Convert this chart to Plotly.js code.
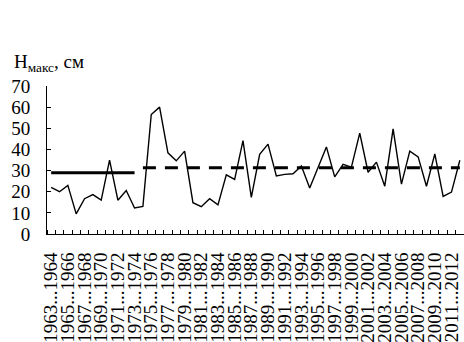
<!DOCTYPE html>
<html>
<head>
<meta charset="utf-8">
<script src="https://cdn.plot.ly/plotly-3.0.1.min.js"></script>
<style>
html,body{margin:0;padding:0;background:#fff;}
#chart{width:464px;height:342px;}
</style>
</head>
<body>
<div id="chart"></div>
<script>
// Winters (categories)
var seasons = [
  "1963...1964","1964...1965","1965...1966","1966...1967","1967...1968",
  "1968...1969","1969...1970","1970...1971","1971...1972","1972...1973",
  "1973...1974","1974...1975","1975...1976","1976...1977","1977...1978",
  "1978...1979","1979...1980","1980...1981","1981...1982","1982...1983",
  "1983...1984","1984...1985","1985...1986","1986...1987","1987...1988",
  "1988...1989","1989...1990","1990...1991","1991...1992","1992...1993",
  "1993...1994","1994...1995","1995...1996","1996...1997","1997...1998",
  "1998...1999","1999...2000","2000...2001","2001...2002","2002...2003",
  "2003...2004","2004...2005","2005...2006","2006...2007","2007...2008",
  "2008...2009","2009...2010","2010...2011","2011...2012","2012...2013"
];
// Maximum snow depth, cm
var hmax = [
  22, 20, 23, 9.5, 16.7, 18.6, 16, 34.9, 16, 20.6,
  12.3, 13, 56.5, 60, 38.4, 34.6, 39.2, 14.8, 12.9, 16.7,
  13.8, 28, 25.8, 44.2, 17.3, 37.7, 42.5, 27.5, 28.2, 28.5,
  32.2, 21.8, 31.5, 41.2, 27, 32.9, 31.6, 47.7, 29.2, 34,
  22.6, 49.7, 23.6, 39.2, 36.5, 22.6, 37.9, 17.8, 19.8, 34.9
];
// Period means: first and last season index of each period, and value
var periodEarly = [0, 10];
var meanEarly = 29;
var periodLate = [11, 49];
var meanLate = 31.3;
// Tick labels shown every other season
var tickIdx = [];
var tickText = [];
for (var i = 0; i < seasons.length; i += 2) { tickIdx.push(i); tickText.push(seasons[i]); }
var idx = seasons.map(function(_, i){ return i; });

var FONT = 'Liberation Serif';

var traces = [
  {x: idx, y: hmax, type: 'scatter', mode: 'lines',
   line: {color: '#000', width: 1.4}, text: seasons, hoverinfo: 'text+y'},
  {x: periodEarly, y: [meanEarly, meanEarly], type: 'scatter', mode: 'lines',
   line: {color: '#000', width: 3}},
  {x: periodLate, y: [meanLate, meanLate], type: 'scatter', mode: 'lines',
   line: {color: '#000', width: 3, dash: '13px,9px'}}
];

var layout = {
  width: 464, height: 342,
  margin: {l: 47, r: 0, t: 86, b: 108, pad: 0},
  paper_bgcolor: '#fff', plot_bgcolor: '#fff',
  showlegend: false,
  xaxis: {
    range: [-0.5, seasons.length - 0.5],
    tickmode: 'array', tickvals: tickIdx, ticktext: tickText,
    tickangle: -90, ticks: '', showgrid: false, zeroline: false,
    showline: true, linecolor: '#000', linewidth: 1,
    tickfont: {family: FONT, size: 19, color: '#000'},
    ticklabelstandoff: 10,
    minor: {tickmode: 'linear', tick0: -0.5, dtick: 1, ticks: 'inside',
            ticklen: 4, tickcolor: '#000', tickwidth: 1, showgrid: false}
  },
  yaxis: {
    range: [0, 70], dtick: 10, tick0: 0,
    ticks: 'inside', ticklen: 4, tickcolor: '#000',
    showgrid: false, zeroline: false,
    showline: true, linecolor: '#000', linewidth: 1,
    tickfont: {family: FONT, size: 19, color: '#000'},
    ticklabelstandoff: 12
  },
  annotations: [{
    text: 'Н<sub>макс</sub>, см',
    xref: 'paper', yref: 'paper',
    x: -0.085, y: 1.06, xanchor: 'left', yanchor: 'bottom',
    showarrow: false, font: {family: FONT, size: 19, color: '#000'}
  }]
};

function draw(){ Plotly.newPlot('chart', traces, layout, {displayModeBar: false}); }
if (document.fonts && document.fonts.load) {
  document.fonts.load('19px "Liberation Serif"', '1963...1964 Нмакс').then(draw, draw);
} else { draw(); }
</script>
</body>
</html>
